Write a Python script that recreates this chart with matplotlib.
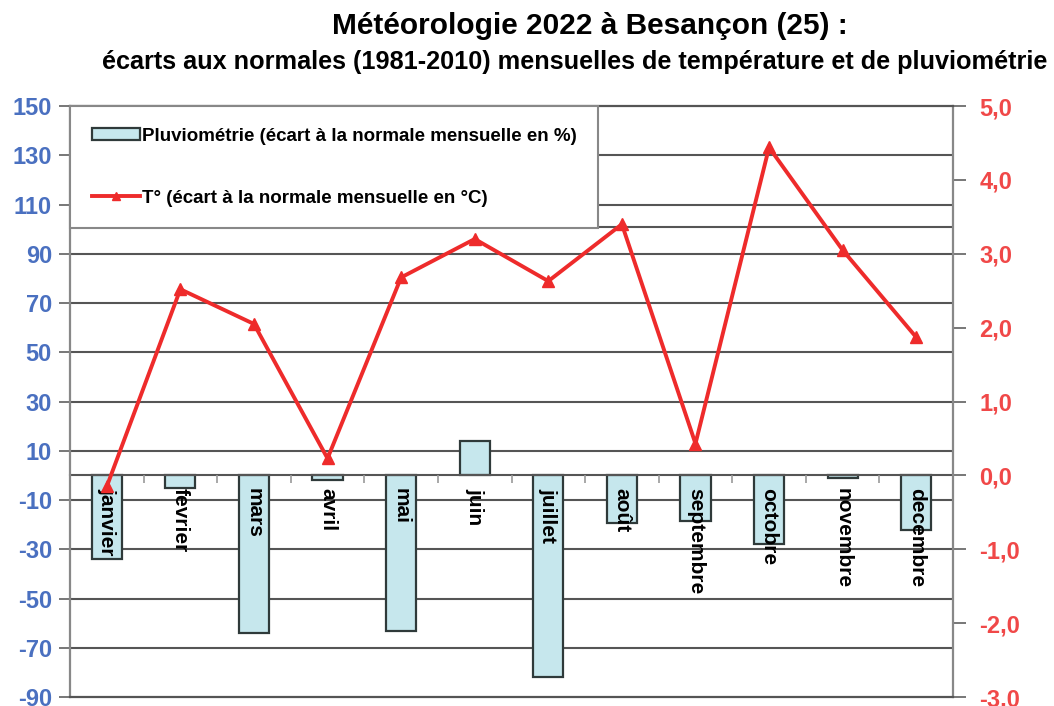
#!/usr/bin/env python3
# Météo Besançon 2022 : écarts aux normales
import numpy as np
import matplotlib.pyplot as plt
from matplotlib.patches import Patch
from matplotlib.lines import Line2D

mois = ["janvier", "fevrier", "mars", "avril", "mai", "juin", "juillet",
        "août", "septembre", "octobre", "novembre", "decembre"]
pluvio = [-34, -5, -64, -2, -63, 14, -82, -19.5, -18.5, -28, -1, -22]
temp = [-0.15, 2.52, 2.05, 0.23, 2.68, 3.2, 2.63, 3.4, 0.43, 4.44, 3.05, 1.87]
ticks_pluvio = list(range(-90, 151, 20))
ticks_temp = list(range(-3, 6))

plt.rcParams['font.family'] = ['Liberation Sans', 'DejaVu Sans']
plt.rcParams['font.weight'] = 'bold'
plt.rcParams['axes.unicode_minus'] = False

fig = plt.figure(figsize=(10.54, 7.06), dpi=100)
ax1 = fig.add_axes([0.0664, 0.0127, 0.8378, 0.8371])
ax2 = ax1.twinx()

x = np.arange(len(mois))
ax1.bar(x, pluvio, width=0.41, color='#c6e7ed', edgecolor='#2f3a3a', linewidth=1.6, zorder=1)
ax1.set_xlim(-0.5, 11.5)
ax1.set_ylim(-90, 150)
ax1.set_yticks(ticks_pluvio)
# grille dessinée à la main pour rester sous les barres
for v in ticks_pluvio[1:-1] + [101]:
    ax1.axhline(v, color='#555555', linewidth=1.5, zorder=0.5)

ax1.set_xticks(x)
ax1.set_xticklabels(mois)
ax1.set_xticks(np.arange(0.5, 11, 1), minor=True)
ax1.tick_params(axis='x', which='major', length=0, pad=9, labelsize=15, labelrotation=270)
ax1.tick_params(axis='x', which='minor', length=6, width=1.2, color='#999999', direction='out')
for lab in ax1.get_xticklabels():
    lab.set_ha('center')
    lab.set_va('top')
ax1.tick_params(axis='y', length=8, width=1.4, color='#777777', pad=5,
                labelsize=17, labelcolor='#4a70c0')
ax1.xaxis.set_zorder(3)

for s in ['left', 'right', 'top']:
    ax1.spines[s].set_visible(False)
ax1.spines['bottom'].set_position(('data', 0))
ax1.spines['bottom'].set_color('#555555')
ax1.spines['bottom'].set_linewidth(1.5)

ax2.plot(x, temp, color='#ee2b2b', linewidth=2.8, marker='^', markersize=8)
ax2.set_ylim(-3, 5)
ax2.set_yticks(ticks_temp, [f"{v:.1f}".replace('.', ',') for v in ticks_temp])
ax2.tick_params(axis='y', length=9, width=1.4, color='#777777', pad=10,
                labelsize=17, labelcolor='#f04848')
ax2.spines['left'].set_color('#888888')
ax2.spines['right'].set_color('#888888')
ax2.spines['top'].set_color('#555555')
ax2.spines['bottom'].set_color('#555555')
for s in ax2.spines.values():
    s.set_linewidth(1.6)

handles = [Patch(facecolor='#c6e7ed', edgecolor='#2f3a3a', linewidth=1.6),
           Line2D([], [], color='#ee2b2b', linewidth=2.8, marker='^', markersize=6)]
labels = ["Pluviométrie (écart à la normale mensuelle en %)",
          "T° (écart à la normale mensuelle en °C)"]
leg = ax2.legend(handles, labels, loc='upper left', bbox_to_anchor=(0, 1),
                 borderaxespad=0, fontsize=13.5, fancybox=False, framealpha=1,
                 edgecolor='#888888', borderpad=1.15, labelspacing=2.4,
                 handlelength=2.6, handleheight=0.55, handletextpad=0.1)
leg.get_frame().set_linewidth(1.5)

fig.text(0.56, 0.963, "Météorologie 2022 à Besançon (25) :", ha='center', va='center',
         fontsize=21.5)
fig.text(0.545, 0.912, "écarts aux normales (1981-2010) mensuelles de température et de pluviométrie",
         ha='center', va='center', fontsize=18.2)

fig.savefig("out.png", dpi=100)
